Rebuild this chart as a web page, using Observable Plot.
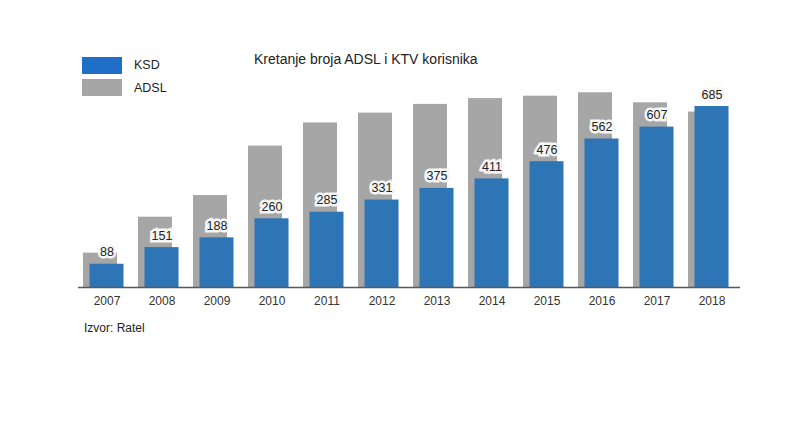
<!DOCTYPE html>
<html>
<head>
<meta charset="utf-8">
<script src="https://cdn.jsdelivr.net/npm/d3@7"></script>
<script src="https://cdn.jsdelivr.net/npm/@observablehq/plot@0.6"></script>
<style>
  html, body { margin: 0; padding: 0; background: #fff; }
  #wrap { position: relative; width: 800px; height: 443px; overflow: hidden; font-family: "Liberation Sans", Arial, sans-serif; }
  #title { position: absolute; left: 254px; top: 51px; font-size: 14px; color: #222; white-space: nowrap; }
  .lg { position: absolute; left: 82px; width: 40px; height: 17px; }
  .lt { position: absolute; left: 134px; font-size: 12.5px; color: #222; }
  #caption { position: absolute; left: 84px; top: 321px; font-size: 12px; color: #222; }
  #chart { position: absolute; left: 0; top: 0; }
</style>
</head>
<body>
<div id="wrap">
  <div id="chart"></div>
  <div id="title">Kretanje broja ADSL i KTV korisnika</div>
  <div class="lg" style="top:57px;background:#1f6fc6"></div>
  <div class="lt" style="top:58px">KSD</div>
  <div class="lg" style="top:79px;background:#a6a6a6"></div>
  <div class="lt" style="top:81px">ADSL</div>
  <div id="caption">Izvor: Ratel</div>
</div>
<script>
const years = ["2007","2008","2009","2010","2011","2012","2013","2014","2015","2016","2017","2018"];
const ksd  = [88, 151, 188, 260, 285, 331, 375, 411, 476, 562, 607, 685];
const adsl = [130, 266, 348, 535, 623, 660, 693, 715, 724, 737, 699, 664];

const data = years.map((y, i) => ({year: y, ksd: ksd[i], adsl: adsl[i]}));

const chart = Plot.plot({
  width: 800,
  height: 443,
  marginLeft: 78,
  marginRight: 60,
  marginTop: 0,
  marginBottom: 156,
  style: {fontFamily: "'Liberation Sans', Arial, sans-serif", background: "transparent"},
  x: {domain: years, padding: 0, label: null},
  y: {domain: [0, 685], range: [287, 106], axis: null},
  marks: [
    Plot.barY(data, {x: "year", y: "adsl", fill: "#a6a6a6", insetLeft: 4, insetRight: 17}),
    Plot.barY(data, {x: "year", y: "ksd", fill: "#2e75b6", insetLeft: 10.5, insetRight: 10.5}),
    Plot.ruleY([0], {stroke: "#595959", strokeWidth: 1.5}),
    Plot.text(data, {x: "year", y: "ksd", text: d => String(d.ksd), dy: -12, fontSize: 12.5, fill: "#222", stroke: "#f6f6f6", strokeWidth: 5, strokeLinejoin: "miter"}),
    Plot.axisX({tickSize: 0, tickPadding: 9, fontSize: 12, fill: "#333", label: null})
  ]
});
document.getElementById("chart").appendChild(chart);
</script>
</body>
</html>
